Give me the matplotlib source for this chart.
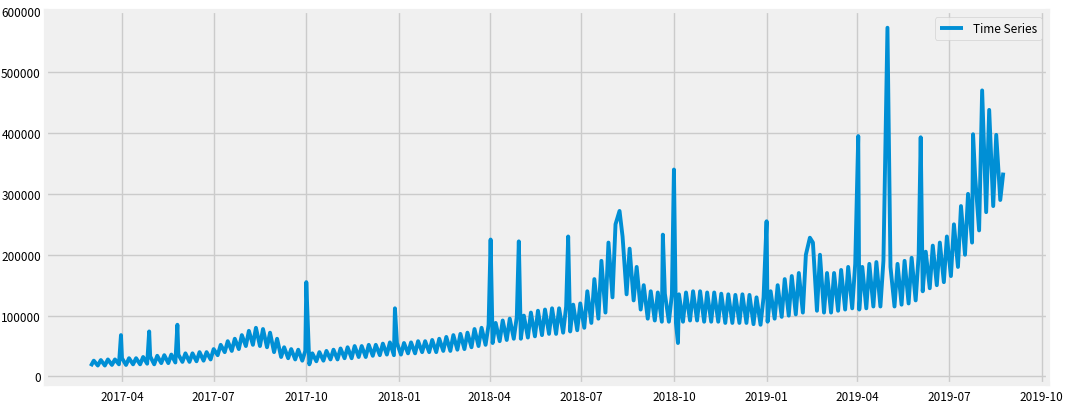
import matplotlib
matplotlib.use("Agg")
import matplotlib.pyplot as plt
import matplotlib.dates as mdates
import pandas as pd

plt.style.use("fivethirtyeight")
plt.rcParams["font.family"] = ["Noto Sans CJK SC", "DejaVu Sans"]

# weekly lows / highs in thousands, one entry per week starting 2017-03-01
LOWS = [17, 18, 18, 19, 20, 19, 20, 20, 21, 20, 22, 22, 23, 24, 24, 25, 26, 28,
        35, 40, 42, 45, 50, 52, 50, 48, 40, 32, 30, 28, 26, 20, 25, 26, 28,
        28, 30, 30, 32, 32, 34, 35, 36, 35,
        36, 38, 38, 40, 40, 40, 42, 42, 44, 45, 48, 50, 52, 55, 58, 60, 62,
        62, 64, 66, 68, 70, 70, 72, 74, 76, 80, 88, 95, 105, 130, 140, 135, 125, 110,
        95, 92, 90, 90, 88, 90, 92, 92, 90, 90, 90, 88, 88, 88, 88, 86, 85,
        90, 95, 98, 100, 102, 105, 110, 108, 105, 105, 108, 110, 112, 110, 112, 115, 115,
        112, 115, 118, 120, 125, 140, 145, 150, 155, 165, 180, 200, 220, 240, 270, 280, 290]
HIGHS = [26, 27, 28, 28, 30, 30, 30, 32, 33, 34, 35, 36, 36, 38, 38, 40, 40, 45,
         52, 58, 62, 68, 75, 80, 78, 72, 62, 48, 45, 44, 42, 38, 40, 42, 44,
         46, 48, 50, 50, 52, 52, 54, 56, 55,
         55, 56, 58, 58, 60, 62, 65, 68, 70, 72, 78, 80, 85, 88, 92, 95, 98,
         100, 105, 108, 110, 112, 112, 115, 118, 120, 140, 160, 190, 220, 250, 230, 210, 180, 150,
         140, 138, 136, 135, 135, 138, 140, 140, 138, 138, 136, 135, 134, 135, 134, 130, 130,
         140, 150, 160, 165, 170, 200, 220, 200, 170, 170, 175, 180, 185, 180, 185, 188, 190,
         180, 185, 190, 195, 200, 205, 215, 220, 230, 250, 280, 300, 330, 340, 360, 400, 340]

SPIKES = {
    "2017-03-31": 68000, "2017-04-28": 74000, "2017-05-26": 85000,
    "2017-10-01": 155000, "2017-12-28": 112000, "2018-04-02": 225000,
    "2018-04-30": 222000, "2018-06-18": 230000, "2018-08-08": 272000,
    "2018-09-20": 233000, "2018-10-01": 340000, "2018-10-05": 55000,
    "2019-01-01": 255000, "2019-02-13": 228000, "2019-04-02": 395000,
    "2019-05-01": 573000, "2019-06-03": 393000, "2019-07-25": 398000,
    "2019-08-03": 470000, "2019-08-10": 438000, "2019-08-17": 397000,
    "2019-08-24": 335000,
}

weeks = pd.date_range("2017-03-01", periods=len(LOWS), freq="7D")
s = pd.concat([
    pd.Series([v * 1000 for v in LOWS], index=weeks),
    pd.Series([v * 1000 for v in HIGHS], index=weeks + pd.Timedelta(days=3)),
    pd.Series(list(SPIKES.values()), index=pd.to_datetime(list(SPIKES.keys()))),
])
s = s[~s.index.duplicated(keep="last")].sort_index(kind="stable")

fig, ax = plt.subplots(figsize=(10.8, 4.1), dpi=100)
fig.patch.set_facecolor("white")
ax.plot(s.index, s.values, color="#008fd5", linewidth=2.8, label="Time Series")
ax.set_xlim(pd.Timestamp("2017-01-16"), pd.Timestamp("2019-10-07"))
ax.set_ylim(-13000, 600000)
ax.set_yticks(range(0, 600001, 100000))
ax.xaxis.set_major_locator(mdates.MonthLocator(bymonth=[1, 4, 7, 10]))
ax.xaxis.set_major_formatter(mdates.DateFormatter("%Y-%m"))
ax.tick_params(labelsize=8.5, pad=4)
ax.legend(loc="upper right", fontsize=8.5)
plt.subplots_adjust(left=0.043, right=0.97, top=0.97, bottom=0.06)
plt.savefig("out.png", dpi=100)
